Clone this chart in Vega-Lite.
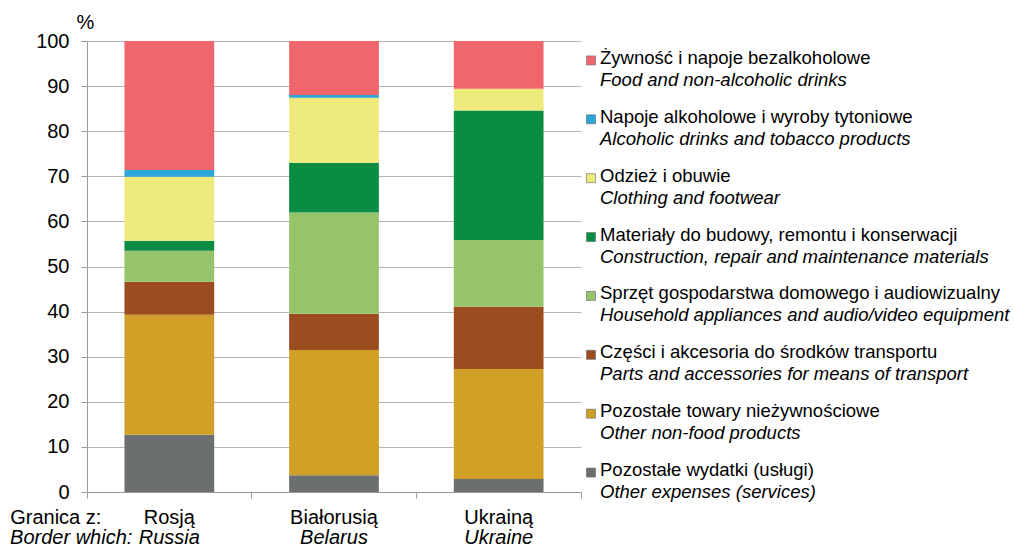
{
  "$schema": "https://vega.github.io/schema/vega-lite/v6.json",
  "background": "white",
  "padding": {"left": 10, "top": 12, "right": 2, "bottom": 2},
  "bounds": "flush",
  "spacing": 10,
  "config": {"view": {"stroke": null}, "font": "Liberation Sans"},
  "resolve": {"scale": {"x": "independent", "y": "independent", "color": "shared"}},
  "datasets": {
    "shares": [
      {"country": "Rosją", "cat": "Pozostałe wydatki (usługi)", "ord": 1, "value": 12.7},
      {"country": "Rosją", "cat": "Pozostałe towary nieżywnościowe", "ord": 2, "value": 26.6},
      {"country": "Rosją", "cat": "Części i akcesoria do środków transportu", "ord": 3, "value": 7.3},
      {"country": "Rosją", "cat": "Sprzęt gospodarstwa domowego i audiowizualny", "ord": 4, "value": 6.9},
      {"country": "Rosją", "cat": "Materiały do budowy, remontu i konserwacji", "ord": 5, "value": 2.2},
      {"country": "Rosją", "cat": "Odzież i obuwie", "ord": 6, "value": 14.2},
      {"country": "Rosją", "cat": "Napoje alkoholowe i wyroby tytoniowe", "ord": 7, "value": 1.5},
      {"country": "Rosją", "cat": "Żywność i napoje bezalkoholowe", "ord": 8, "value": 28.6},
      {"country": "Białorusią", "cat": "Pozostałe wydatki (usługi)", "ord": 1, "value": 3.7},
      {"country": "Białorusią", "cat": "Pozostałe towary nieżywnościowe", "ord": 2, "value": 27.8},
      {"country": "Białorusią", "cat": "Części i akcesoria do środków transportu", "ord": 3, "value": 8.0},
      {"country": "Białorusią", "cat": "Sprzęt gospodarstwa domowego i audiowizualny", "ord": 4, "value": 22.5},
      {"country": "Białorusią", "cat": "Materiały do budowy, remontu i konserwacji", "ord": 5, "value": 11.0},
      {"country": "Białorusią", "cat": "Odzież i obuwie", "ord": 6, "value": 14.4},
      {"country": "Białorusią", "cat": "Napoje alkoholowe i wyroby tytoniowe", "ord": 7, "value": 0.6},
      {"country": "Białorusią", "cat": "Żywność i napoje bezalkoholowe", "ord": 8, "value": 12.0},
      {"country": "Ukrainą", "cat": "Pozostałe wydatki (usługi)", "ord": 1, "value": 2.9},
      {"country": "Ukrainą", "cat": "Pozostałe towary nieżywnościowe", "ord": 2, "value": 24.4},
      {"country": "Ukrainą", "cat": "Części i akcesoria do środków transportu", "ord": 3, "value": 13.8},
      {"country": "Ukrainą", "cat": "Sprzęt gospodarstwa domowego i audiowizualny", "ord": 4, "value": 14.8},
      {"country": "Ukrainą", "cat": "Materiały do budowy, remontu i konserwacji", "ord": 5, "value": 28.7},
      {"country": "Ukrainą", "cat": "Odzież i obuwie", "ord": 6, "value": 4.8},
      {"country": "Ukrainą", "cat": "Napoje alkoholowe i wyroby tytoniowe", "ord": 7, "value": 0.0},
      {"country": "Ukrainą", "cat": "Żywność i napoje bezalkoholowe", "ord": 8, "value": 10.6}
    ],
    "countries": [
      {"country": "Rosją", "en": "Russia", "pre_pl": "Granica z:", "pre_en": "Border which:"},
      {"country": "Białorusią", "en": "Belarus", "pre_pl": "", "pre_en": ""},
      {"country": "Ukrainą", "en": "Ukraine", "pre_pl": "", "pre_en": ""}
    ],
    "cats": [
      {"rank": 1, "cat": "Żywność i napoje bezalkoholowe", "en": "Food and non-alcoholic drinks"},
      {"rank": 2, "cat": "Napoje alkoholowe i wyroby tytoniowe", "en": "Alcoholic drinks and tobacco products"},
      {"rank": 3, "cat": "Odzież i obuwie", "en": "Clothing and footwear"},
      {"rank": 4, "cat": "Materiały do budowy, remontu i konserwacji", "en": "Construction, repair and maintenance materials"},
      {"rank": 5, "cat": "Sprzęt gospodarstwa domowego i audiowizualny", "en": "Household appliances and audio/video equipment"},
      {"rank": 6, "cat": "Części i akcesoria do środków transportu", "en": "Parts and accessories for means of transport"},
      {"rank": 7, "cat": "Pozostałe towary nieżywnościowe", "en": "Other non-food products"},
      {"rank": 8, "cat": "Pozostałe wydatki (usługi)", "en": "Other expenses (services)"}
    ]
  },
  "hconcat": [
    {
      "width": 494,
      "height": 451,
      "layer": [
        {
          "data": {"name": "shares"},
          "mark": {"type": "bar", "width": {"band": 0.545}},
          "encoding": {
            "x": {
              "field": "country", "type": "nominal", "sort": ["Rosją", "Białorusią", "Ukrainą"],
              "scale": {"paddingInner": 0, "paddingOuter": 0},
              "axis": {"title": null, "labels": false, "bandPosition": 1, "tickExtra": true, "tickSize": 6, "tickColor": "#9a9a9a", "domainColor": "#9a9a9a", "grid": false}
            },
            "y": {
              "field": "value", "type": "quantitative", "stack": "zero",
              "scale": {"domain": [0, 100], "nice": false},
              "axis": {
                "values": [0, 10, 20, 30, 40, 50, 60, 70, 80, 90, 100],
                "title": "%", "titleAngle": 0, "titleAlign": "center", "titleBaseline": "alphabetic",
                "titleX": -2, "titleY": -13, "titleFontSize": 20, "titleFontWeight": "normal", "titleColor": "black",
                "labelFontSize": 20, "labelColor": "black", "labelPadding": 12,
                "tickSize": 6, "tickColor": "#9a9a9a", "domainColor": "#9a9a9a", "gridColor": "#b4b4b4"
              }
            },
            "color": {
              "field": "cat", "type": "nominal",
              "scale": {
                "domain": ["Żywność i napoje bezalkoholowe", "Napoje alkoholowe i wyroby tytoniowe", "Odzież i obuwie", "Materiały do budowy, remontu i konserwacji", "Sprzęt gospodarstwa domowego i audiowizualny", "Części i akcesoria do środków transportu", "Pozostałe towary nieżywnościowe", "Pozostałe wydatki (usługi)"],
                "range": ["#EF676C", "#2BA7D9", "#EEEA7C", "#0A8D42", "#97C46B", "#9B4D20", "#D0A026", "#6C6F70"]
              },
              "legend": null
            },
            "order": {"field": "ord", "type": "quantitative"}
          }
        },
        {
          "data": {"name": "countries"},
          "mark": {"type": "text", "fontSize": 20, "dy": 26, "baseline": "middle"},
          "encoding": {
            "x": {"field": "country", "type": "nominal", "sort": ["Rosją", "Białorusią", "Ukrainą"]},
            "y": {"datum": 0},
            "text": {"field": "country"}
          }
        },
        {
          "data": {"name": "countries"},
          "mark": {"type": "text", "fontSize": 20, "dy": 46, "baseline": "middle", "fontStyle": "italic"},
          "encoding": {
            "x": {"field": "country", "type": "nominal", "sort": ["Rosją", "Białorusią", "Ukrainą"]},
            "y": {"datum": 0},
            "text": {"field": "en"}
          }
        },
        {
          "data": {"name": "countries"},
          "mark": {"type": "text", "fontSize": 20, "dy": 26, "dx": -68, "align": "right", "baseline": "middle"},
          "encoding": {
            "x": {"field": "country", "type": "nominal", "sort": ["Rosją", "Białorusią", "Ukrainą"]},
            "y": {"datum": 0},
            "text": {"field": "pre_pl"}
          }
        },
        {
          "data": {"name": "countries"},
          "mark": {"type": "text", "fontSize": 20, "dy": 46, "dx": -37, "align": "right", "baseline": "middle", "fontStyle": "italic"},
          "encoding": {
            "x": {"field": "country", "type": "nominal", "sort": ["Rosją", "Białorusią", "Ukrainą"]},
            "y": {"datum": 0},
            "text": {"field": "pre_en"}
          }
        }
      ]
    },
    {
      "width": 410,
      "height": 451,
      "data": {"name": "cats"},
      "encoding": {
        "y": {"field": "cat", "type": "nominal", "sort": {"field": "rank", "op": "min"}, "scale": {"type": "point", "padding": 0.33}, "axis": null},
        "x": {"datum": 0, "type": "quantitative", "scale": {"domain": [0, 1]}, "axis": null}
      },
      "layer": [
        {
          "mark": {"type": "square", "size": 81, "filled": true, "opacity": 1, "stroke": "#666666", "strokeWidth": 0.6},
          "encoding": {
            "color": {"field": "cat", "type": "nominal", "legend": null}
          }
        },
        {
          "mark": {"type": "text", "align": "left", "baseline": "middle", "dx": 9, "dy": -2.5, "fontSize": 18.5, "color": "black"},
          "encoding": {"text": {"field": "cat"}}
        },
        {
          "mark": {"type": "text", "align": "left", "baseline": "middle", "dx": 9, "dy": 19.5, "fontSize": 18.5, "fontStyle": "italic", "color": "black"},
          "encoding": {"text": {"field": "en"}}
        }
      ]
    }
  ]
}
